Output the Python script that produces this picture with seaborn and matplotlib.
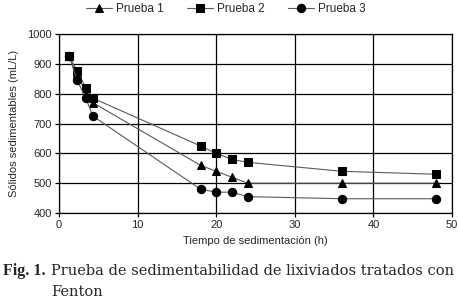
import pandas as pd
import numpy as np
import matplotlib
matplotlib.use("Agg")
import matplotlib.pyplot as plt
import seaborn as sns

# tiempo de sedimentacion (h)
tiempo = [1.3, 2.3, 3.4, 4.3, 18, 20, 22, 24, 36, 48]
# solidos sedimentables (mL/L)
prueba1 = [925, 870, 800, 770, 560, 540, 520, 500, 500, 500]
prueba2 = [925, 875, 820, 785, 625, 600, 580, 570, 540, 530]
prueba3 = [925, 845, 785, 725, 480, 470, 470, 455, 448, 448]
series = ["Prueba 1", "Prueba 2", "Prueba 3"]

df = pd.concat([
    pd.DataFrame({"t": tiempo, "v": vals, "serie": name})
    for name, vals in zip(series, [prueba1, prueba2, prueba3])
])

sns.set_style("white")
plt.rcParams['font.family'] = ['Liberation Sans', 'DejaVu Sans']

fig = plt.figure(figsize=(4.58, 3.07), dpi=100)
ax = fig.add_axes([0.129, 0.306, 0.858, 0.583])

sns.lineplot(data=df, x="t", y="v", hue="serie", style="serie",
             markers={"Prueba 1": "^", "Prueba 2": "s", "Prueba 3": "o"},
             dashes=False, palette=["#5a5a5a"] * 3, ax=ax,
             markerfacecolor="k", markeredgecolor="k", markersize=6,
             linewidth=0.8)

ax.set_xlim(0, 50)
ax.set_ylim(400, 1000)
ax.set_xticks([0, 10, 20, 30, 40, 50])
ax.set_yticks([400, 500, 600, 700, 800, 900, 1000])
ax.grid(True, color="k", linewidth=0.9)
for s in ax.spines.values():
    s.set_color("k")
    s.set_linewidth(0.9)
ax.tick_params(labelsize=8, length=3, width=0.9, color="k", direction="out",
               left=True, bottom=True, pad=2)
ax.set_xlabel("Tiempo de sedimentación (h)", fontsize=8, labelpad=4)
ax.set_ylabel("Sólidos sedimentables (mL/L)", fontsize=8, labelpad=6)

sns.move_legend(ax, "center", bbox_to_anchor=(0.493, 0.971),
                bbox_transform=fig.transFigure, ncol=3,
                frameon=False, title=None, fontsize=8.5, handlelength=2.2,
                columnspacing=2.0, handletextpad=0.3, borderaxespad=0)

# caption, font size fitted to the width it has in the original
serif = "DejaVu Serif"
fig.text(3 / 458, 0.118, "Fig. 1.", family="Liberation Serif",
         fontweight="bold", fontsize=11.5, va="center")
t_cap = fig.text(51 / 458, 0.118,
                 "Prueba de sedimentabilidad de lixiviados tratados con",
                 family=serif, fontsize=10, va="center")
t_fen = fig.text(51 / 458, 0.048, "Fenton", family=serif, fontsize=10,
                 va="center")
r = fig.canvas.get_renderer()
w = t_cap.get_window_extent(r).width
cs = 10 * 405 / w
t_cap.set_fontsize(cs)
t_fen.set_fontsize(cs)

fig.savefig("out.png", dpi=100)
